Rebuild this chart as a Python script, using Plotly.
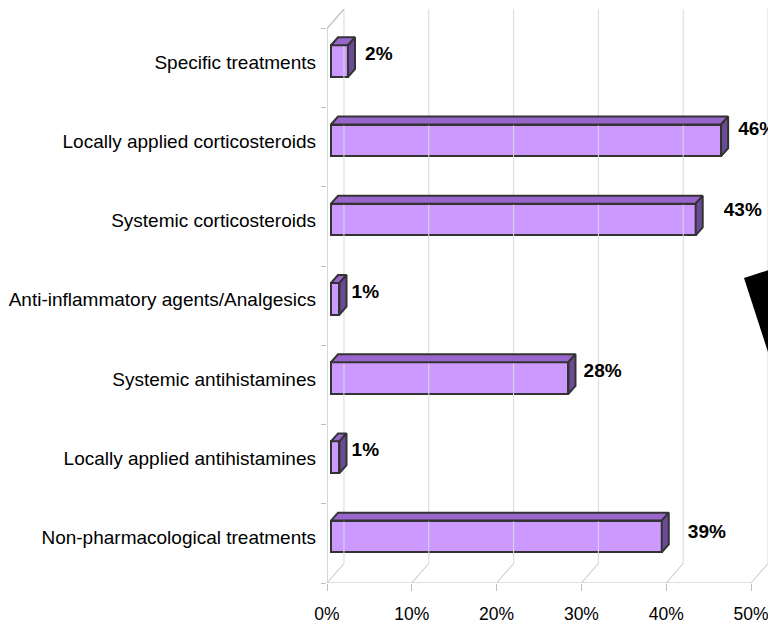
import plotly.graph_objects as go

# ---------------- data (top-to-bottom as displayed) ----------------
categories = [
    "Specific treatments",
    "Locally applied corticosteroids",
    "Systemic corticosteroids",
    "Anti-inflammatory agents/Analgesics",
    "Systemic antihistamines",
    "Locally applied antihistamines",
    "Non-pharmacological treatments",
]
values = [2, 46, 43, 1, 28, 1, 39]
value_labels = ["2%", "46%", "43%", "1%", "28%", "1%", "39%"]
x_tick_values = [0, 10, 20, 30, 40, 50]
x_tick_labels = ["0%", "10%", "20%", "30%", "40%", "50%"]

# ---------------- styling constants (3D look, in axis units) ----------------
WALL_DX, WALL_DY = 2.0, 0.246      # depth of the chart walls
BAR_X0 = 0.47                      # bars sit slightly behind the front plane
BAR_SHIFT = 0.088
BAR_W = 0.40
BAR_DX, BAR_DY = 0.83, 0.10        # depth of each bar
X_MAX = 52.0
Y_MIN, Y_MAX = -0.5, 6.5 + WALL_DY
PX_PER_X = 8.48                    # pixels per axis unit (x)
PX_PER_Y = 79.2                    # pixels per category (y)
# small per-label nudges (pixels, top-to-bottom), as placed in the original
LABEL_NUDGE_X = [5, 5, 16, 0, 3, 0, 14]
LABEL_NUDGE_Y = [0, -5, -3, 0, 0, 0, 2]

FRONT = "#CC99FF"
TOP = "#9966CC"
SIDE = "#6B4C94"
EDGE = "#333333"
GRID = "#D9D9D9"
AXIS = "#BFBFBF"
FONT = "Liberation Sans, Arial, sans-serif"

# bottom-to-top order for the numeric axis
cats = categories[::-1]
vals = values[::-1]
labs = value_labels[::-1]
nx = LABEL_NUDGE_X[::-1]
ny = LABEL_NUDGE_Y[::-1]
idx = list(range(len(cats)))

fig = go.Figure()

# back wall grid lines
gx, gy = [], []
for t in x_tick_values:
    gx += [t + WALL_DX, t + WALL_DX, None]
    gy += [-0.5 + WALL_DY, 6.5 + WALL_DY, None]
fig.add_trace(go.Scatter(x=gx, y=gy, mode="lines", line=dict(color=GRID, width=1),
                         hoverinfo="skip", showlegend=False))
# floor depth lines
fx, fy = [], []
for t in x_tick_values:
    fx += [t, t + WALL_DX, None]
    fy += [-0.5, -0.5 + WALL_DY, None]
fig.add_trace(go.Scatter(x=fx, y=fy, mode="lines", line=dict(color=AXIS, width=1),
                         hoverinfo="skip", showlegend=False))
# front floor line and left wall
fig.add_trace(go.Scatter(x=[x_tick_values[0], x_tick_values[-1]], y=[-0.5, -0.5], mode="lines",
                         line=dict(color=AXIS, width=1.2), hoverinfo="skip", showlegend=False))
fig.add_trace(go.Scatter(x=[0, 0, WALL_DX], y=[-0.5, 6.5, 6.5 + WALL_DY], mode="lines",
                         line=dict(color=AXIS, width=1.2), hoverinfo="skip", showlegend=False))

# bar front faces
fig.add_trace(go.Bar(
    y=idx, x=vals, base=BAR_X0, orientation="h",
    width=BAR_W, offset=-BAR_W / 2 + BAR_SHIFT,
    marker=dict(color=FRONT, line=dict(color=EDGE, width=2)),
    hoverinfo="skip", showlegend=False,
))

# bar top and side faces
tx, ty, sx, sy = [], [], [], []
for i, v in zip(idx, vals):
    yt = i + BAR_SHIFT + BAR_W / 2
    yb = i + BAR_SHIFT - BAR_W / 2
    x1 = BAR_X0 + v
    tx += [BAR_X0, BAR_X0 + BAR_DX, x1 + BAR_DX, x1, BAR_X0, None]
    ty += [yt, yt + BAR_DY, yt + BAR_DY, yt, yt, None]
    sx += [x1, x1 + BAR_DX, x1 + BAR_DX, x1, x1, None]
    sy += [yt, yt + BAR_DY, yb + BAR_DY, yb, yt, None]
fig.add_trace(go.Scatter(x=tx, y=ty, mode="lines", fill="toself", fillcolor=TOP,
                         line=dict(color=EDGE, width=2), hoverinfo="skip", showlegend=False))
fig.add_trace(go.Scatter(x=sx, y=sy, mode="lines", fill="toself", fillcolor=SIDE,
                         line=dict(color=EDGE, width=2), hoverinfo="skip", showlegend=False))

# value labels
fig.add_trace(go.Scatter(
    x=[BAR_X0 + v + BAR_DX + 0.6 + dx / PX_PER_X for v, dx in zip(vals, nx)],
    y=[i + BAR_SHIFT + 0.07 - dy / PX_PER_Y for i, dy in zip(idx, ny)],
    mode="text", text=labs, textposition="middle right",
    textfont=dict(family=FONT, size=19, color="#000000"),
    texttemplate="<b>%{text}</b>",
    cliponaxis=False, hoverinfo="skip", showlegend=False,
))

# decorative black triangle at right edge (paper coords from screen pixel positions)
def px(xp):
    return (xp - 327) / (768 - 327)

def py(yp):
    return (583 - yp) / (583 - 9)

tri = [(744, 278), (830, 250), (790, 420)]
path = "M {} {} L {} {} L {} {} Z".format(*[c for p in tri for c in (px(p[0]), py(p[1]))])
fig.add_shape(type="path", path=path, xref="paper", yref="paper",
              fillcolor="#000000", line=dict(width=0), layer="above")

fig.update_layout(
    width=768, height=627,
    margin=dict(l=327, r=0, t=9, b=44),
    paper_bgcolor="white", plot_bgcolor="white",
    bargap=0,
    xaxis=dict(range=[0, X_MAX], tickvals=x_tick_values, ticktext=x_tick_labels,
               showgrid=False, zeroline=False, showline=False, automargin=False,
               ticks="outside", ticklen=7, tickcolor=AXIS, ticklabelstandoff=8,
               ticklabeloverflow="allow",
               tickfont=dict(family=FONT, size=17.5, color="#000000")),
    yaxis=dict(range=[Y_MIN, Y_MAX], tickvals=idx, ticktext=cats,
               showgrid=False, zeroline=False, showline=False, automargin=False,
               ticks="", ticklabelshift=-6, ticklabelstandoff=10,
               minor=dict(tickvals=[i - 0.5 for i in idx] + [idx[-1] + 0.5],
                          ticks="outside", ticklen=5, tickcolor=AXIS, showgrid=False),
               tickfont=dict(family=FONT, size=19, color="#000000")),
)

fig.write_html(
    "out.html",
    config={"displayModeBar": False},
    post_script="document.body.style.margin='0px';document.body.style.overflow='hidden';",
)
